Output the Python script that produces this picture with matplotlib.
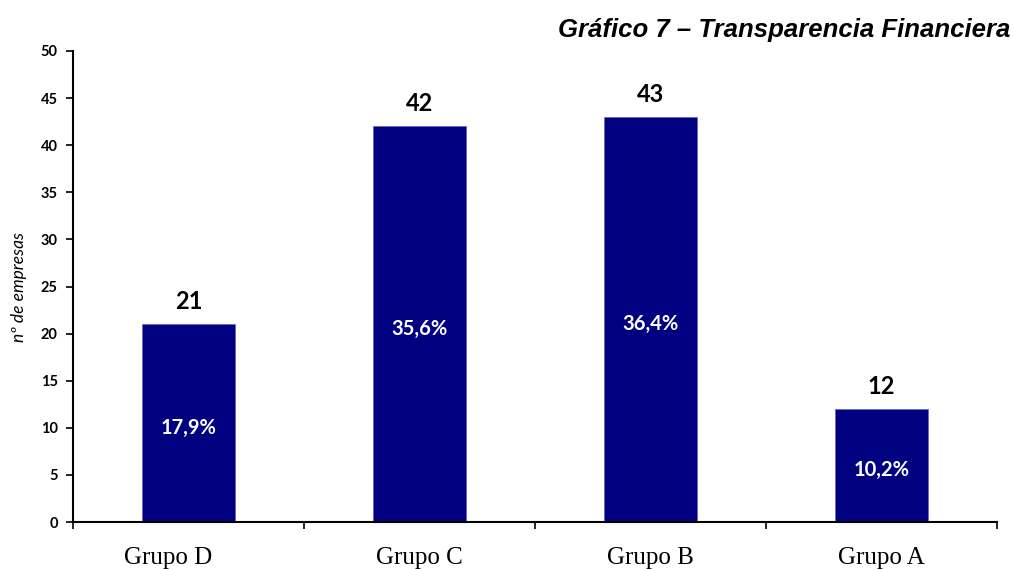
import numpy as np
import matplotlib
matplotlib.use("Agg")
import matplotlib.pyplot as plt
from matplotlib.transforms import ScaledTranslation

# data
grupos = ["Grupo D", "Grupo C", "Grupo B", "Grupo A"]
empresas = [21, 42, 43, 12]
porcentajes = ["17,9%", "35,6%", "36,4%", "10,2%"]

fig = plt.figure(figsize=(10.13, 5.70), dpi=100)
ax = fig.add_axes([73 / 1013, 1 - 522 / 570, (997 - 73) / 1013, (522 - 51) / 570])

x = np.arange(len(grupos))
ax.bar(x, empresas, width=0.4, color="#000080", edgecolor="#6a6ac8", linewidth=0.6)

for xi, v, p in zip(x, empresas, porcentajes):
    ax.text(xi, v + 1.2, str(v), ha="center", va="bottom",
            fontsize=17, fontweight="bold", family="Lato")
    ax.text(xi, v / 2 - 0.5, p, ha="center", va="center", color="white",
            fontsize=14.5, fontweight="bold", family="Lato")

ax.set_xlim(-0.5, 3.5)
ax.set_ylim(0, 50)
ax.set_yticks(range(0, 51, 5))
ax.set_yticklabels([str(t) for t in range(0, 51, 5)], fontsize=10.5,
                   fontweight="bold", family="Lato")

# ticks between categories
ax.set_xticks(np.arange(-0.5, 4, 1))
ax.set_xticklabels([])
ax.set_xticks(x, minor=True)
ax.set_xticklabels(grupos, minor=True, fontsize=18, family="Liberation Serif")
ax.tick_params(axis="x", which="minor", length=0, pad=18)
ax.tick_params(axis="x", which="major", direction="out", length=5, width=1.2)
ax.tick_params(axis="y", length=5, width=1.2, pad=6)

# first label sits a bit left in the original
lbl = ax.get_xticklabels(minor=True)[0]
lbl.set_transform(lbl.get_transform() + ScaledTranslation(-0.2, 0, fig.dpi_scale_trans))

for s in ["top", "right"]:
    ax.spines[s].set_visible(False)
for s in ["left", "bottom"]:
    ax.spines[s].set_linewidth(1.5)

ax.set_ylabel("nº de empresas", fontsize=12.5, style="italic", family="Lato", labelpad=10)

fig.text(0.997, 1 - 30 / 570, "Gráfico 7 – Transparencia Financiera", ha="right", va="center",
         fontsize=18.5, fontweight="bold", style="italic", family="Liberation Sans")

fig.savefig("out.png", dpi=100)
